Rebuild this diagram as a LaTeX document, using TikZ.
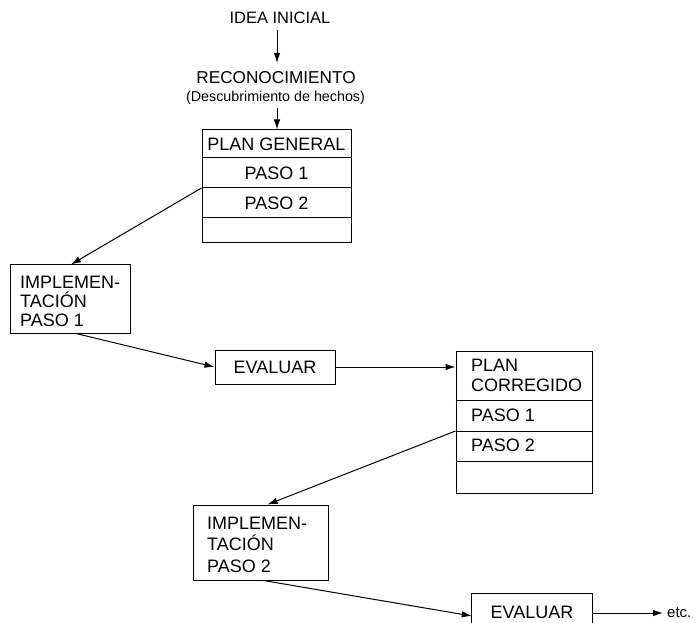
\documentclass[tikz,border=0pt]{standalone}
\usepackage{fontspec}
\setmainfont{Liberation Sans}
\usetikzlibrary{arrows.meta}
\begin{document}
\begin{tikzpicture}[x=1pt,y=-1pt,
  every node/.style={font=\fontsize{18}{20}\selectfont, inner sep=0pt},
  box/.style={draw, line width=1pt},
  small/.style={font=\fontsize{14.3}{17}\selectfont},
  etcfont/.style={font=\fontsize{15}{17}\selectfont},
  arr/.style={line width=1pt, -{Latex[length=10pt,width=6.5pt]}},
  rule/.style={line width=1pt}]
\useasboundingbox (0,0) rectangle (697,623);
% top texts
\node[font=\fontsize{16.5}{20}\selectfont] (idea) at (280,18) {IDEA INICIAL};
\node[font=\fontsize{17.2}{20}\selectfont] (reco) at (276,78) {RECONOCIMIENTO};
\node[small] (desc) at (275.5,98) {(Descubrimiento de hechos)};
% plan general
\node[box, minimum width=149pt, minimum height=113pt] (pg) at (276.5,186.5) {};
\node (pgt) at (276.5,144) {PLAN GENERAL};
\node (pg1) at (276.5,173) {PASO 1};
\node (pg2) at (276.5,203) {PASO 2};
\coordinate (r1) at (0,158);
\coordinate (r2) at (0,188);
\coordinate (r3) at (0,218);
\draw[rule] (pg.west |- r1) -- (pg.east |- r1);
\draw[rule] (pg.west |- r2) -- (pg.east |- r2);
\draw[rule] (pg.west |- r3) -- (pg.east |- r3);
\coordinate (ia) at (277,30);
\coordinate (ib) at (277,63);
\draw[arr] (ia) -- (ib);
\coordinate (ra) at (277,108);
\draw[arr] (ra) -- (ra |- pg.north);
% implementation 1
\node[box, minimum width=120pt, minimum height=68pt] (im1) at (70,299) {};
\node[anchor=west, align=left, font=\fontsize{18}{19}\selectfont] (im1t) at (20,301) {IMPLEMEN-\\TACIÓN\\PASO 1};
\draw[arr] (pg.west |- r2) -- ([xshift=1pt]im1.north);
% evaluar 1
\node[box, minimum width=120pt, minimum height=34pt] (ev1) at (275,367) {EVALUAR};
\draw[arr] ([xshift=6pt]im1.south) -- (ev1.west);
% plan corregido
\node[box, minimum width=136pt, minimum height=142pt] (pc) at (524,422) {};
\node[anchor=west, align=left, font=\fontsize{18}{20}\selectfont] (pct) at (471,375) {PLAN\\CORREGIDO};
\node[anchor=west] (pc1) at (471,415) {PASO 1};
\node[anchor=west] (pc2) at (471,445) {PASO 2};
\coordinate (s1) at (0,400);
\coordinate (s2) at (0,431);
\coordinate (s3) at (0,461);
\draw[rule] (pc.west |- s1) -- (pc.east |- s1);
\draw[rule] (pc.west |- s2) -- (pc.east |- s2);
\draw[rule] (pc.west |- s3) -- (pc.east |- s3);
\draw[arr] (ev1.east) -- (ev1.east -| pc.west);
% implementation 2
\node[box, minimum width=135pt, minimum height=75pt] (im2) at (260.5,542.5) {};
\node[anchor=west, align=left, font=\fontsize{18}{21.5}\selectfont] (im2t) at (207,544.5) {IMPLEMEN-\\TACIÓN\\PASO 2};
\draw[arr] (pc.west |- s2) -- ([xshift=7pt]im2.north);
% evaluar 2
\node[minimum width=120pt, minimum height=36pt] (ev2) at (532,612) {EVALUAR};
\coordinate (edge) at (0,623);
\draw[rule] (ev2.west |- edge) -- (ev2.north west) -- (ev2.north east) -- (ev2.east |- edge);
\draw[arr] ([xshift=3pt]im2.south) -- ([yshift=-4pt]ev2.west);
\node[etcfont, anchor=west] (etc) at (667,613) {etc.};
\draw[arr] (ev2.east |- etc.west) -- ([xshift=-4pt]etc.west);
\end{tikzpicture}
\end{document}
